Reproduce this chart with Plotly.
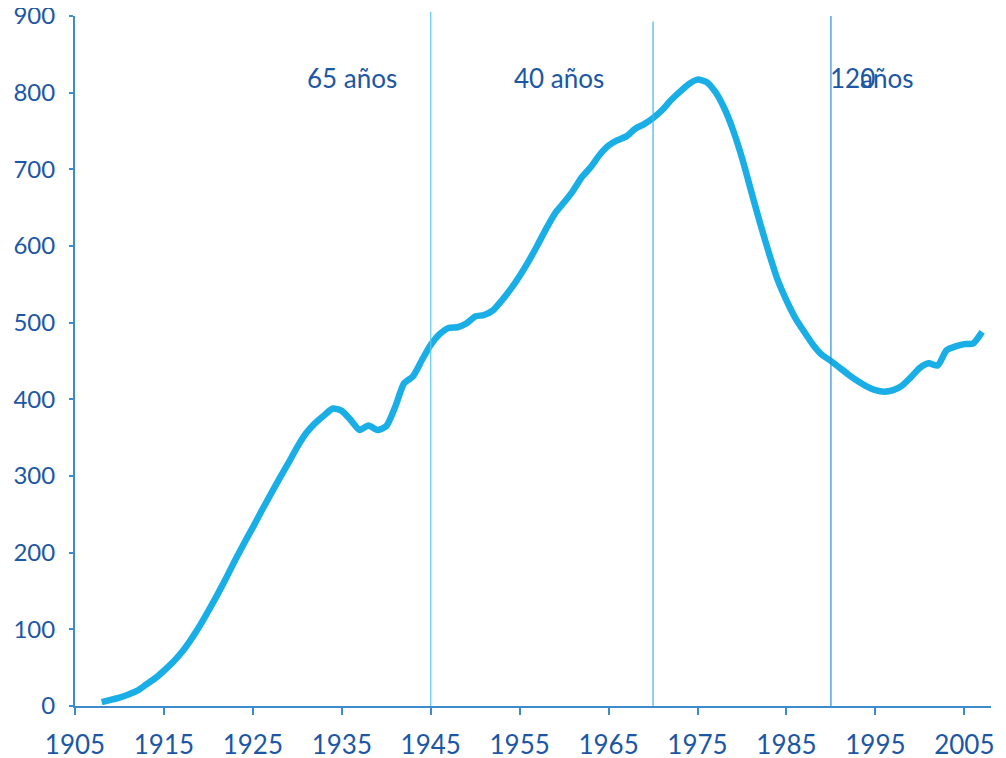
import plotly.graph_objects as go

# años y valores
anios = list(range(1908, 2008))
valores = [5, 8, 11, 15, 20, 28, 36, 46, 57, 70, 86, 104, 124, 145, 167, 190, 212, 233, 255, 276,
           297, 317, 338, 356, 369, 379, 388, 385, 373, 360, 366, 360, 365, 390, 421, 430, 451, 471,
           485, 493, 494, 499, 508, 510, 516, 529, 544, 561, 580, 601, 623, 643, 657, 672, 690, 703,
           719, 731, 738, 743, 753, 759, 767, 777, 790, 801, 811, 817, 814, 801, 780, 751, 715, 673,
           631, 592, 556, 529, 506, 488, 471, 458, 450, 441, 432, 424, 417, 412, 410, 412, 418, 429,
           441, 447, 444, 464, 469, 472, 473, 488]

cortes = [1945, 1970, 1990]
etiquetas = ["65 años", "40 años"]
tick_anios = list(range(1905, 2006, 10))
tick_y = list(range(0, 901, 100))

azul_txt = "#1c57a5"
azul_eje = "#3d8bcb"

fig = go.Figure()
fig.add_trace(go.Scatter(x=anios, y=valores, mode="lines",
                         line=dict(color="#1aaee6", width=6.5, shape="spline", smoothing=0.6),
                         showlegend=False))

colores_corte = ["#5cc8f0", "#3bb8ea", "#2a8fcf"]
tops = [1.006, 0.992, 1.0]
for c, col, t in zip(cortes, colores_corte, tops):
    fig.add_shape(type="line", xref="x", yref="paper", x0=c, x1=c, y0=0, y1=t,
                  line=dict(color=col, width=1.2))

fnt = dict(family="Lato, Open Sans, sans-serif", size=26, color=azul_txt)
fig.add_annotation(x=1936.1, y=819, text=etiquetas[0], showarrow=False, font=fnt)
fig.add_annotation(x=1959.4, y=819, text=etiquetas[1], showarrow=False, font=fnt)
fig.add_annotation(x=1989.7, y=819, text="120", showarrow=False, xanchor="left", font=fnt)
fig.add_annotation(x=1993.0, y=819, text="años", showarrow=False, xanchor="left", font=fnt)

# la pagina tiene 8px de margen en el body
fig.update_layout(
    width=998, height=750,
    margin=dict(l=67, r=15, t=8, b=52),
    paper_bgcolor="white", plot_bgcolor="white",
    font=dict(family="Lato, Open Sans, sans-serif", color=azul_txt),
)
fig.update_xaxes(range=[1905, 2008], tickvals=tick_anios, showgrid=False, zeroline=False,
                 showline=True, linecolor=azul_eje, linewidth=2, automargin=False,
                 ticks="outside", ticklen=7, tickcolor=azul_eje, tickwidth=1.5,
                 tickfont=dict(size=26, color=azul_txt), ticklabelstandoff=8,
                 ticklabeloverflow="allow")
fig.update_yaxes(range=[0, 900], tickvals=tick_y, showgrid=False, zeroline=False,
                 showline=True, linecolor=azul_eje, linewidth=2, automargin=False,
                 ticks="outside", ticklen=4, tickcolor=azul_eje, tickwidth=1.5,
                 tickfont=dict(size=24, color=azul_txt), ticklabelstandoff=9,
                 ticklabeloverflow="allow")

fig.write_html("out.html")
